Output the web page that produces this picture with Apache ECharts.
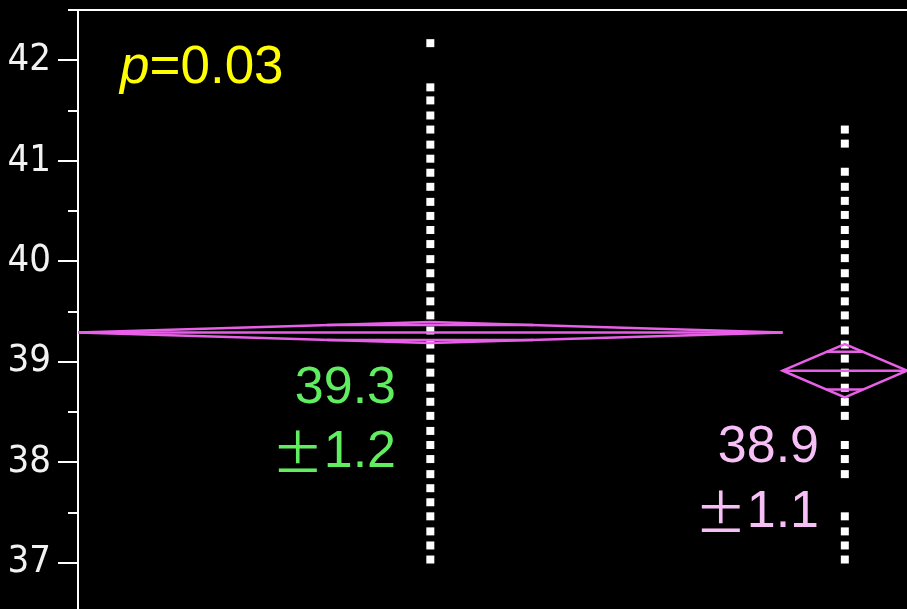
<!DOCTYPE html>
<html>
<head>
<meta charset="utf-8">
<script src="https://cdn.jsdelivr.net/npm/echarts@6/dist/echarts.min.js"></script>
<style>
  html, body { margin: 0; padding: 0; background: #000; }
  #chart { width: 907px; height: 609px; }
</style>
</head>
<body>
<div id="chart"></div>
<script>
// values
var group1Values = [42.17, 41.73, 41.60, 41.45, 41.31, 41.16, 41.02, 40.88, 40.74, 40.59, 40.45, 40.31,
  40.17, 40.02, 39.88, 39.74, 39.60, 39.46, 39.31, 39.17, 39.03, 38.89, 38.74, 38.60, 38.46, 38.31,
  38.17, 38.03, 37.88, 37.74, 37.60, 37.46, 37.31, 37.17, 37.03];
var group2Values = [41.31, 41.17, 40.89, 40.74, 40.60, 40.46, 40.31, 40.17, 40.03, 39.88, 39.74, 39.60,
  39.46, 39.31, 39.17, 39.03, 38.89, 38.74, 38.60, 38.46, 38.17, 38.03, 37.88, 37.46, 37.31, 37.17, 37.03];
var groupShares = [85, 15];        // x width of each group
var groupMeans = [39.29, 38.91];
var groupCI = [0.105, 0.265];      // half height of mean diamond
var groupSD = [1.2, 1.1];
var pValue = 0.03;
var majorTicks = [37, 38, 39, 40, 41, 42];
var minorTicks = [36.5, 37.5, 38.5, 39.5, 40.5, 41.5, 42.5];

// group centres on the hidden x axis
var centers = [];
var start = 0;
groupShares.forEach(function (s) { centers.push(start + s / 2); start += s; });

var diamondData = groupMeans.map(function (m, i) {
  return [centers[i], m, groupCI[i], groupShares[i] / 2];
});

var diamondColor = '#e860e8';

var option = {
  backgroundColor: '#000',
  animation: false,
  grid: { left: 78, top: 10, right: 0, height: 653, outerBoundsMode: 'none', containLabel: false },
  xAxis: {
    type: 'value', min: 0, max: start, position: 'top',
    axisLine: { onZero: false, lineStyle: { color: '#fff', width: 2 } },
    axisTick: { show: false }, axisLabel: { show: false }, splitLine: { show: false }
  },
  yAxis: [
    {
      type: 'value', min: 36, max: 42.5, position: 'left',
      axisLine: { show: true, onZero: false, lineStyle: { color: '#fff', width: 2 } },
      axisTick: { show: true, length: 20, customValues: majorTicks, lineStyle: { color: '#fff', width: 2 } },
      axisLabel: {
        customValues: majorTicks, margin: 27, color: '#f2f2f2', fontSize: 38,
        fontFamily: "'Liberation Sans Narrow', 'DejaVu Sans Condensed', sans-serif"
      },
      splitLine: { show: false }
    },
    {
      // short ticks at the half units
      type: 'value', min: 36, max: 42.5, position: 'left',
      axisLine: { show: false },
      axisTick: { show: true, length: 10, customValues: minorTicks, lineStyle: { color: '#fff', width: 2 } },
      axisLabel: { show: false },
      splitLine: { show: false }
    }
  ],
  series: [
    {
      type: 'scatter', symbol: 'rect', symbolSize: 8,
      itemStyle: { color: '#fff', opacity: 1 },
      data: group1Values.map(function (v) { return [centers[0], v]; }),
      z: 3
    },
    {
      type: 'scatter', symbol: 'rect', symbolSize: 8,
      itemStyle: { color: '#fff', opacity: 1 },
      data: group2Values.map(function (v) { return [centers[1], v]; }),
      z: 3
    },
    {
      type: 'custom',
      data: diamondData,
      z: 4,
      renderItem: function (params, api) {
        var c = api.value(0), m = api.value(1), ci = api.value(2), hw = api.value(3);
        var k = 1 - 1 / Math.SQRT2;
        var off = ci / Math.SQRT2;
        var style = { stroke: diamondColor, fill: null, lineWidth: 2.5 };
        var L = api.coord([c - hw, m]), R = api.coord([c + hw, m]);
        var T = api.coord([c, m + ci]), B = api.coord([c, m - ci]);
        var u1 = api.coord([c - hw * k, m + off]), u2 = api.coord([c + hw * k, m + off]);
        var d1 = api.coord([c - hw * k, m - off]), d2 = api.coord([c + hw * k, m - off]);
        return {
          type: 'group',
          children: [
            { type: 'polygon', shape: { points: [L, T, R, B] }, style: style },
            { type: 'line', shape: { x1: L[0], y1: L[1], x2: R[0], y2: R[1] }, style: style },
            { type: 'line', shape: { x1: u1[0], y1: u1[1], x2: u2[0], y2: u2[1] }, style: style },
            { type: 'line', shape: { x1: d1[0], y1: d1[1], x2: d2[0], y2: d2[1] }, style: style }
          ]
        };
      }
    }
  ],
  graphic: [
    {
      type: 'text', left: 120, top: 42, z: 10,
      style: {
        text: '{i|p}{n|=' + pValue.toFixed(2) + '}',
        rich: {
          i: { fontSize: 53, fontStyle: 'italic', fontFamily: 'Liberation Sans', fill: '#ffff00' },
          n: { fontSize: 53, fontFamily: 'Liberation Sans', fill: '#ffff00' }
        }
      }
    },
    {
      type: 'text', x: 396, y: 389, z: 10,
      style: { text: groupMeans[0].toFixed(1), fontSize: 52, fontFamily: 'Liberation Sans',
        fill: '#60ee60', align: 'right', verticalAlign: 'middle' }
    },
    {
      type: 'text', x: 396, y: 453, z: 10,
      style: {
        text: '{pm|±}{n|' + groupSD[0].toFixed(1) + '}', align: 'right', verticalAlign: 'middle',
        rich: {
          pm: { fontSize: 52, fontFamily: 'Noto Sans CJK JP', fill: '#60ee60' },
          n: { fontSize: 52, fontFamily: 'Liberation Sans', fill: '#60ee60' }
        }
      }
    },
    {
      type: 'text', x: 819, y: 448, z: 10,
      style: { text: groupMeans[1].toFixed(1), fontSize: 52, fontFamily: 'Liberation Sans',
        fill: '#f6bff6', align: 'right', verticalAlign: 'middle' }
    },
    {
      type: 'text', x: 819, y: 513, z: 10,
      style: {
        text: '{pm|±}{n|' + groupSD[1].toFixed(1) + '}', align: 'right', verticalAlign: 'middle',
        rich: {
          pm: { fontSize: 52, fontFamily: 'Noto Sans CJK JP', fill: '#f6bff6' },
          n: { fontSize: 52, fontFamily: 'Liberation Sans', fill: '#f6bff6' }
        }
      }
    }
  ]
};

var myChart = echarts.init(document.getElementById('chart'));
myChart.setOption(option);
</script>
</body>
</html>
